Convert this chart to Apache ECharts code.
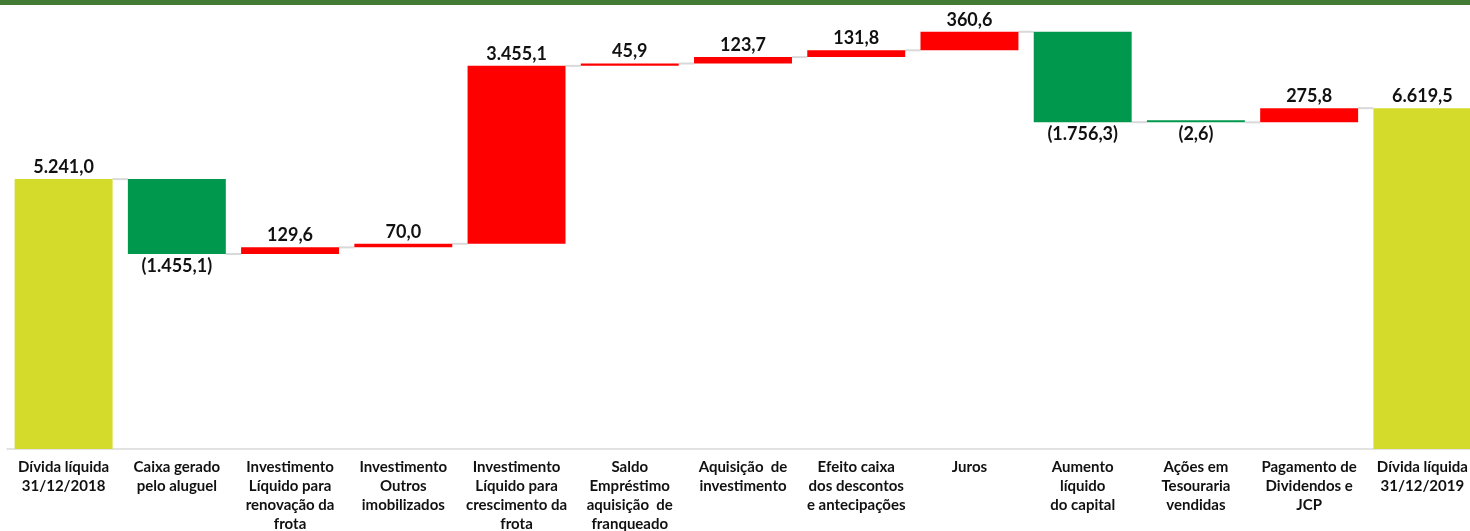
<!DOCTYPE html>
<html>
<head>
<meta charset="utf-8">
<script src="https://cdn.jsdelivr.net/npm/echarts@6/dist/echarts.min.js"></script>
<style>
html,body{margin:0;padding:0;background:#fff;overflow:hidden;}
#chart{width:1470px;height:531px;}
</style>
</head>
<body>
<div id="chart"></div>
<script>
const categories = [
  'Dívida líquida\n31/12/2018',
  'Caixa gerado\npelo aluguel',
  'Investimento\nLíquido para\nrenovação da\nfrota',
  'Investimento\nOutros\nimobilizados',
  'Investimento\nLíquido para\ncrescimento da\nfrota',
  'Saldo\nEmpréstimo\naquisição  de\nfranqueado',
  'Aquisição  de\ninvestimento',
  'Efeito caixa\ndos descontos\ne antecipações',
  'Juros',
  'Aumento\nlíquido\ndo capital',
  'Ações em\nTesouraria\nvendidas',
  'Pagamento de\nDividendos e\nJCP',
  'Dívida líquida\n31/12/2019'
];
const values = [5241.0, -1455.1, 129.6, 70.0, 3455.1, 45.9, 123.7, 131.8, 360.6, -1756.3, -2.6, 275.8, 6619.5];
const isTotal = [true, false, false, false, false, false, false, false, false, false, false, false, true];

const COLOR_TOTAL = '#d4db2b';
const COLOR_UP = '#ff0000';
const COLOR_DOWN = '#00984c';

function fmt(v) {
  const a = Math.abs(v);
  const parts = a.toFixed(1).split('.');
  const intPart = parts[0].replace(/\B(?=(\d{3})+(?!\d))/g, '.');
  const s = intPart + ',' + parts[1];
  return v < 0 ? '(' + s + ')' : s;
}

const baseData = [];
const barData = [];
const levels = [];
let running = 0;
values.forEach((v, i) => {
  if (isTotal[i]) {
    baseData.push(0);
    barData.push({value: v, itemStyle: {color: COLOR_TOTAL}, label: {position: 'top'}, raw: v});
    running = v;
  } else if (v >= 0) {
    baseData.push(running);
    barData.push({value: v, itemStyle: {color: COLOR_UP}, label: {position: 'top'}, raw: v});
    running += v;
  } else {
    baseData.push(running + v);
    barData.push({value: -v, itemStyle: {color: COLOR_DOWN}, label: {position: 'bottom'}, raw: v});
    running += v;
  }
  levels.push(running);
});
const connectorData = levels.slice(0, levels.length - 1).map((l, i) => [i, l]);

const chart = echarts.init(document.getElementById('chart'), null, {renderer: 'canvas'});
const FONT = 'Lato, "Open Sans", sans-serif';
chart.setOption({
  animation: false,
  backgroundColor: '#fff',
  graphic: [{type: 'rect', left: 0, top: 0, shape: {width: 1470, height: 5}, style: {fill: '#437b35'}, z: 100}],
  grid: {left: 7, top: 1, right: -9, bottom: 82, containLabel: false, outerBoundsMode: 'none'},
  xAxis: {
    type: 'category',
    data: categories,
    axisLine: {show: true, lineStyle: {color: '#d9d9d9', width: 1.5}},
    axisTick: {show: false},
    axisLabel: {
      interval: 0,
      margin: 9,
      color: '#111',
      fontFamily: FONT,
      fontWeight: 'bold',
      fontSize: 15,
      lineHeight: 19
    }
  },
  yAxis: {
    type: 'value', min: 0, max: 8700,
    show: false,
    splitLine: {show: false}
  },
  series: [
    {
      type: 'custom',
      z: 1,
      renderItem: function (params, api) {
        const i = api.value(0);
        const p = api.coord([i, api.value(1)]);
        const bw = api.size([1, 0])[0];
        const half = bw * 0.865 / 2;
        return {
          type: 'line',
          shape: {x1: p[0] + half, y1: p[1], x2: p[0] + bw - half, y2: p[1]},
          style: {stroke: '#d9d9d9', lineWidth: 2}
        };
      },
      data: connectorData,
      silent: true
    },
    {
      type: 'bar', stack: 'w', barCategoryGap: '13.5%',
      itemStyle: {color: 'transparent'},
      data: baseData, silent: true
    },
    {
      type: 'bar', stack: 'w', barCategoryGap: '13.5%',
      barMinHeight: 2,
      data: barData,
      label: {
        show: true,
        color: '#111',
        fontFamily: FONT,
        fontWeight: 'bold',
        fontSize: 18,
        distance: 3,
        formatter: function (p) { return fmt(p.data.raw); }
      }
    }
  ]
});
</script>
</body>
</html>
